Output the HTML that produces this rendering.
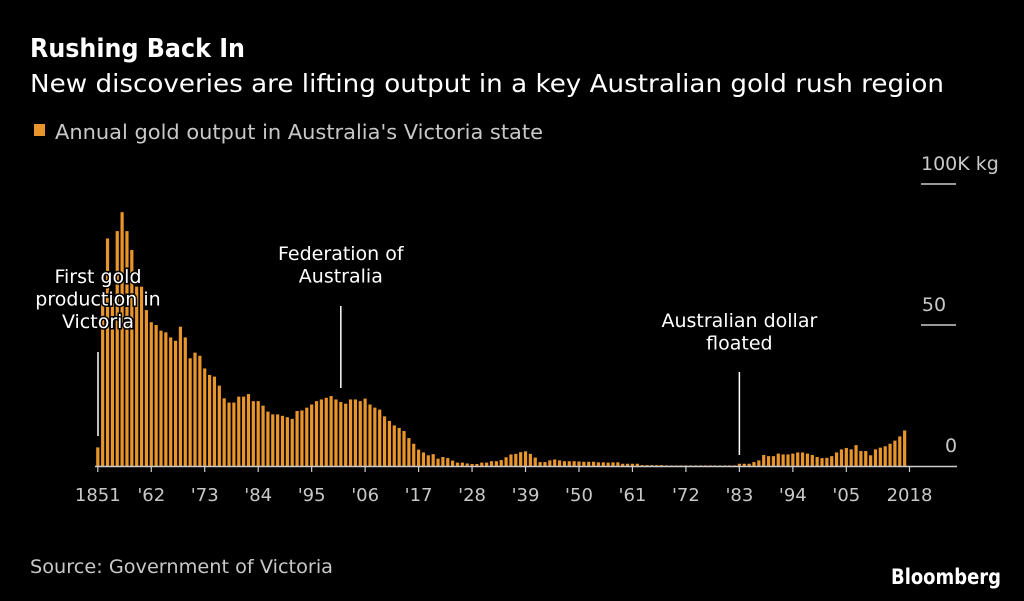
<!DOCTYPE html>
<html><head><meta charset="utf-8"><style>
html,body{margin:0;padding:0;background:#000;}
body{width:1024px;height:596px;overflow:hidden;font-family:"Liberation Sans","DejaVu Sans",sans-serif;}
svg text{font-family:"DejaVu Sans","Liberation Sans",sans-serif;}
</style></head><body>
<svg id="chart" width="1024" height="596" viewBox="0 0 1024 596">
<rect width="1024" height="596" fill="#000"/>
<text x="30" y="57" font-size="26" font-weight="bold" fill="#fff" textLength="215" lengthAdjust="spacingAndGlyphs">Rushing Back In</text>
<text x="30" y="92" font-size="25" fill="#fff" textLength="914" lengthAdjust="spacingAndGlyphs">New discoveries are lifting output in a key Australian gold rush region</text>
<rect x="34" y="124" width="11" height="12" fill="#e8952b"/>
<text x="55" y="139" font-size="20" fill="#c8c8c8" textLength="488" lengthAdjust="spacingAndGlyphs">Annual gold output in Australia's Victoria state</text>
<g id="yaxis"></g>
<g id="bars"></g>
<g id="xaxis"></g>
<g id="ann"></g>
<text x="30" y="573" font-size="19" fill="#c8c8c8" textLength="303" lengthAdjust="spacingAndGlyphs">Source: Government of Victoria</text>
<text x="1001" y="584" font-size="21" font-weight="bold" fill="#fff" text-anchor="end" textLength="110" lengthAdjust="spacingAndGlyphs">Bloomberg</text>
</svg>
<script>
const startYear = 1851;
const values = [6.6,59,80.7,60,83.3,90,83.3,76.6,63.6,63.6,55.3,51,50,48,47.4,45.6,44.4,49.4,45.6,38.2,40.2,39.1,34.6,32.3,31.7,28.5,24,22.5,22.5,24.6,24.6,25.5,23,23,21.4,19.3,18.3,18.3,17.8,17.3,16.7,19.5,19.7,20.7,21.8,23,23.6,24.2,24.8,23.6,22.7,22.1,23.6,23.6,23,23.9,21.8,20.7,20,17.6,16,14.4,13.5,12.4,9.9,7.9,5.8,4.8,3.8,4.2,2.6,3.2,2.8,1.9,1.2,1.2,0.9,0.7,0.7,1.2,1.2,1.7,1.7,2.1,3.1,4.1,4.3,4.9,5.2,4.3,3,1.4,1.4,2,2.3,2,1.7,1.7,1.7,1.6,1.5,1.5,1.5,1.3,1.3,1.2,1.3,1.3,0.8,0.8,0.8,0.8,0.3,0.3,0.3,0.3,0.3,0.2,0.2,0.2,0.2,0.2,0.2,0.2,0.2,0.2,0.2,0.2,0.2,0.2,0.2,0.2,0.8,0.8,0.8,1.4,2,3.9,3.5,3.5,4.4,4.1,4.1,4.4,4.8,4.8,4.4,3.9,3.2,2.8,2.9,3.5,4.8,5.9,6.4,5.9,7.4,5.3,5.3,3.8,5.9,6.5,7,7.9,9,10.5,12.6];
const yTicks = [0,50,100];
const yTickLabels = ["0","50","100K kg"];
const xTickYears = [1851,1862,1873,1884,1895,1906,1917,1928,1939,1950,1961,1972,1983,1994,2005,2018];
const xTickLabels = ["1851","'62","'73","'84","'95","'06","'17","'28","'39","'50","'61","'72","'83","'94","'05","2018"];
const annYears = [1851,1901,1983];
const annTexts = [["First gold","production in","Victoria"],["Federation of","Australia"],["Australian dollar","floated"]];
const annTextTop = [283,260,327];
const annLineTop = [352,306,372];
const annLineBottom = [436,388,455];

const NS="http://www.w3.org/2000/svg";
const x0=97.8, pitch=(909.5-97.8)/167, yBase=466, yScale=2.82;
const X=y=>x0+(y-startYear)*pitch;
const Y=v=>yBase-v*yScale;
function mk(tag,attrs,parent){const e=document.createElementNS(NS,tag);for(const k in attrs)e.setAttribute(k,attrs[k]);parent.appendChild(e);return e;}
const bars=document.getElementById('bars');
values.forEach((v,i)=>{
  const r=mk('rect',{x:X(startYear+i)-1.6,y:Y(v),width:3.2,height:v*yScale,fill:'#e8952b'},bars);
  
  
});
const ya=document.getElementById('yaxis');
yTicks.forEach((t,i)=>{
  if(t>0){const l=mk('line',{x1:921,x2:956,y1:Y(t),y2:Y(t),stroke:'#ccc','stroke-width':1.5},ya);
  
  }
  const tx=mk('text',{x:t===0?951:(t===100?921:934),y:Y(t)-14,'font-size':19,fill:'#c8c8c8','text-anchor':t===100?'start':'middle'},ya);
  tx.textContent=yTickLabels[i];
  
  
});
const xa=document.getElementById('xaxis');
const base=mk('line',{x1:95,x2:957,y1:yBase+0.5,y2:yBase+0.5,stroke:'#ccc','stroke-width':1.5},xa);


xTickYears.forEach((yr,i)=>{
  const l=mk('line',{x1:X(yr),x2:X(yr),y1:yBase,y2:yBase+6,stroke:'#ccc','stroke-width':1.2},xa);
  
  
  const t=mk('text',{x:X(yr),y:501,'font-size':18,fill:'#c8c8c8','text-anchor':'middle'},xa);
  t.textContent=xTickLabels[i];
  
  
});
const an=document.getElementById('ann');
annYears.forEach((yr,i)=>{
  const cx=yr===1851?98:X(yr);
  const l=mk('line',{x1:cx,x2:cx,y1:annLineTop[i],y2:annLineBottom[i],stroke:'#fff','stroke-width':1.5},an);
  
  
  annTexts[i].forEach((s,j)=>{
    const t=mk('text',{x:cx,y:annTextTop[i]+j*22.5,'font-size':19,fill:'#fff','text-anchor':'middle',stroke:'#000','stroke-width':3,'paint-order':'stroke'},an);
    t.textContent=s;
    
    
  });
});
</script>
</body></html>
